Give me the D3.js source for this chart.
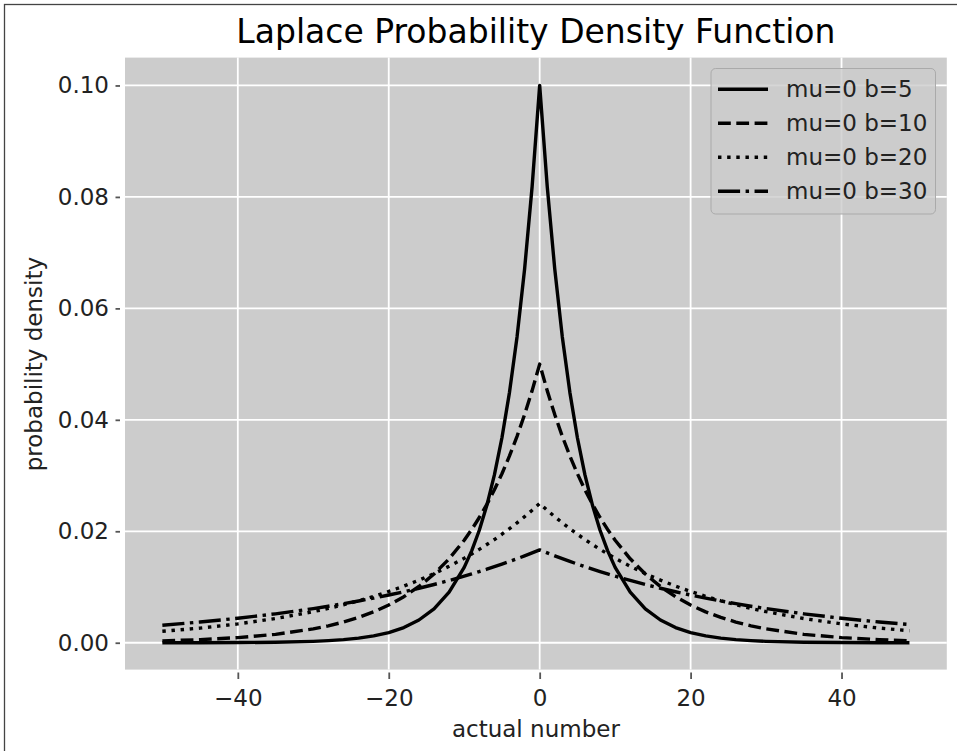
<!DOCTYPE html>
<html>
<head>
<meta charset="utf-8">
<script src="https://cdn.jsdelivr.net/npm/d3@7"></script>
<style>
body { margin: 0; background: white; }
text { font-family: "DejaVu Sans", sans-serif; }
</style>
</head>
<body>
<div id="chart"></div>
<script>
const width = 957
const height = 751
const color_bg = '#cccccc'
const color_text = '#222222'

/* data */
const xs = [-50, -45, -40, -35, -30, -28, -26, -24, -22, -20, -18, -16, -14, -12, -10, -9, -8, -7, -6, -5, -4, -3, -2, -1, 0,
    1, 2, 3, 4, 5, 6, 7, 8, 9, 10, 12, 14, 16, 18, 20, 22, 24, 26, 28, 30, 35, 40, 45, 49]
const b5 = [0.00000, 0.00001, 0.00003, 0.00009, 0.00025, 0.00037, 0.00055, 0.00082, 0.00123, 0.00183, 0.00273, 0.00408,
    0.00608, 0.00907, 0.01353, 0.01653, 0.02019, 0.02466, 0.03012, 0.03679, 0.04493, 0.05488, 0.06703, 0.08187, 0.10000,
    0.08187, 0.06703, 0.05488, 0.04493, 0.03679, 0.03012, 0.02466, 0.02019, 0.01653, 0.01353,
    0.00907, 0.00608, 0.00408, 0.00273, 0.00183, 0.00123, 0.00082, 0.00055, 0.00037, 0.00025, 0.00009, 0.00003, 0.00001, 0.00001]
const b10 = [0.00034, 0.00056, 0.00092, 0.00151, 0.00249, 0.00304, 0.00371, 0.00454, 0.00554, 0.00677, 0.00826, 0.01009,
    0.01233, 0.01506, 0.01839, 0.02033, 0.02247, 0.02483, 0.02744, 0.03033, 0.03352, 0.03704, 0.04094, 0.04524, 0.05000,
    0.04524, 0.04094, 0.03704, 0.03352, 0.03033, 0.02744, 0.02483, 0.02247, 0.02033, 0.01839,
    0.01506, 0.01233, 0.01009, 0.00826, 0.00677, 0.00554, 0.00454, 0.00371, 0.00304, 0.00249, 0.00151, 0.00092, 0.00056, 0.00037]
const b20 = [0.00205, 0.00263, 0.00338, 0.00434, 0.00558, 0.00616, 0.00681, 0.00753, 0.00832, 0.00920, 0.01016, 0.01123,
    0.01241, 0.01372, 0.01516, 0.01594, 0.01676, 0.01762, 0.01852, 0.01947, 0.02047, 0.02152, 0.02262, 0.02378, 0.02500,
    0.02378, 0.02262, 0.02152, 0.02047, 0.01947, 0.01852, 0.01762, 0.01676, 0.01594, 0.01516,
    0.01372, 0.01241, 0.01123, 0.01016, 0.00920, 0.00832, 0.00753, 0.00681, 0.00616, 0.00558, 0.00434, 0.00338, 0.00263, 0.00216]
const b30 = [0.00315, 0.00372, 0.00439, 0.00519, 0.00613, 0.00655, 0.00701, 0.00749, 0.00801, 0.00856, 0.00915, 0.00978,
    0.01045, 0.01117, 0.01194, 0.01235, 0.01277, 0.01320, 0.01365, 0.01411, 0.01459, 0.01508, 0.01559, 0.01612, 0.01667,
    0.01612, 0.01559, 0.01508, 0.01459, 0.01411, 0.01365, 0.01320, 0.01277, 0.01235, 0.01194,
    0.01117, 0.01045, 0.00978, 0.00915, 0.00856, 0.00801, 0.00749, 0.00701, 0.00655, 0.00613, 0.00519, 0.00439, 0.00372, 0.00327]
const labels = ['mu=0 b=5', 'mu=0 b=10', 'mu=0 b=20', 'mu=0 b=30']
const xticks = [-40, -20, 0, 20, 40]
const yticks = [0, 0.02, 0.04, 0.06, 0.08, 0.10]

const series = [b5, b10, b20, b30]
const dashes = [null, '12.8,5.5', '3.45,5.7', '22.1,5.5,3.45,5.5']

const svg = d3.select("#chart")
    .append("svg")
    .attr("width", width)
    .attr("height", height)

/* figure border */
svg.append("rect")
    .attr("x", 4.5)
    .attr("y", 4.5)
    .attr("width", 980)
    .attr("height", 780)
    .attr("fill", "white")
    .attr("stroke", "#444")
    .attr("stroke-width", 1.3)

const x = d3.scaleLinear().domain([-54.95, 53.95]).range([125, 946.8])
const y = d3.scaleLinear().domain([-0.005, 0.105]).range([670.6, 57.6])

/* plot area */
svg.append("rect")
    .attr("x", x.range()[0])
    .attr("y", y.range()[1])
    .attr("width", x.range()[1] - x.range()[0])
    .attr("height", y.range()[0] - y.range()[1] - 1)
    .attr("fill", color_bg)

svg.selectAll(".gridx")
    .data(xticks)
    .enter()
    .append("line")
    .attr("x1", d => x(d))
    .attr("x2", d => x(d))
    .attr("y1", y.range()[1])
    .attr("y2", y.range()[0] - 1)
    .attr("stroke", "white")
    .attr("stroke-width", 1.8)
svg.selectAll(".gridy")
    .data(yticks)
    .enter()
    .append("line")
    .attr("x1", x.range()[0])
    .attr("x2", x.range()[1])
    .attr("y1", d => y(d))
    .attr("y2", d => y(d))
    .attr("stroke", "white")
    .attr("stroke-width", 1.8)

/* axes */
const xAxis = svg.append("g")
    .attr("transform", "translate(0,672.5)")
    .call(d3.axisBottom(x).tickValues(xticks).tickSize(6.5).tickPadding(10.7).tickFormat(d3.format("d")))
const yAxis = svg.append("g")
    .attr("transform", "translate(120,0)")
    .call(d3.axisLeft(y).tickValues(yticks).tickSize(4.5).tickPadding(6.5).tickFormat(d3.format(".2f")))
for (const ax of [xAxis, yAxis]) {
    ax.select(".domain").remove()
    ax.selectAll(".tick line").attr("stroke", "#555").attr("stroke-width", 1.8)
    ax.selectAll(".tick text")
        .attr("fill", color_text)
        .attr("font-size", 23)
        .attr("font-family", "DejaVu Sans")
}

/* curves */
const line = d3.line()
    .x((d, i) => x(xs[i]))
    .y(d => y(d))
svg.selectAll(".curve")
    .data(series)
    .enter()
    .append("path")
    .attr("class", "curve")
    .attr("d", line)
    .attr("fill", "none")
    .attr("stroke", "black")
    .attr("stroke-width", 3.4)
    .attr("stroke-linejoin", "round")
    .attr("stroke-dasharray", (_, i) => dashes[i])

/* titles */
svg.append("text")
    .attr("x", (x.range()[0] + x.range()[1]) / 2)
    .attr("y", 43)
    .attr("font-size", 33)
    .attr("fill", "black")
    .attr("text-anchor", "middle")
    .text("Laplace Probability Density Function")
svg.append("text")
    .attr("x", (x.range()[0] + x.range()[1]) / 2)
    .attr("y", 737)
    .attr("font-size", 23)
    .attr("fill", color_text)
    .attr("text-anchor", "middle")
    .text("actual number")
svg.append("text")
    .attr("transform", `translate(42,${(y.range()[0] + y.range()[1]) / 2}) rotate(-90)`)
    .attr("font-size", 23)
    .attr("fill", color_text)
    .attr("text-anchor", "middle")
    .text("probability density")

/* legend */
svg.append("rect")
    .attr("x", 711)
    .attr("y", 68.5)
    .attr("width", 224.5)
    .attr("height", 145.5)
    .attr("rx", 4.6)
    .attr("fill", color_bg)
    .attr("fill-opacity", 0.8)
    .attr("stroke", "#aaaaaa")
    .attr("stroke-width", 1)
const items = svg.selectAll(".legitem")
    .data(labels)
    .enter()
    .append("g")
    .attr("transform", (_, i) => `translate(0,${89.3 + 34 * i})`)
items.append("line")
    .attr("x1", 718)
    .attr("x2", 768)
    .attr("stroke", "black")
    .attr("stroke-width", 3.4)
    .attr("stroke-dasharray", (_, i) => dashes[i])
items.append("text")
    .attr("x", 786)
    .attr("y", 7.7)
    .attr("font-size", 23)
    .attr("fill", color_text)
    .text(d => d)
</script>
</body>
</html>
